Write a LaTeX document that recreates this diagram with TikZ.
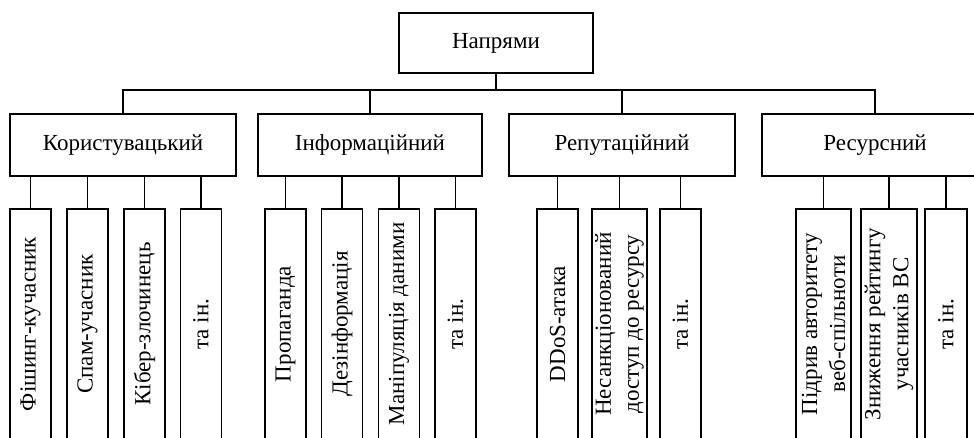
\documentclass[tikz,border=0pt]{standalone}
\usepackage{fontspec}
\setmainfont{Liberation Serif}
\usetikzlibrary{positioning}

\tikzset{
  box/.style={draw, line width=1.6pt, inner sep=0pt, font=\fontsize{23}{28}\selectfont},
  headbox/.style={box, minimum width=194pt, minimum height=60pt},
  groupbox/.style={box, minimum width=226pt, minimum height=62pt},
  leaf/.style={box, rotate=90, minimum width=230pt, minimum height=41pt, align=center},
  wideleaf/.style={leaf, minimum height=55pt},
  link/.style={line width=1.6pt}
}

\begin{document}
\begin{tikzpicture}[x=1pt,y=-1pt]
\useasboundingbox (0,0) rectangle (974,437);
\clip (0,0) rectangle (974,437);

% top
\node[headbox] (top) at (496,43) {Напрями};

% groups
\node[groupbox] (user) at (123,145) {Користувацький};
\node[groupbox, minimum width=224pt] (info) at (370,145) {Інформаційний};
\node[groupbox] (rep) at (622,145) {Репутаційний};
\node[groupbox] (res) at (875,145) {Ресурсний};

\draw[link] (top.south) -- ++(0,16) coordinate (bus);
\foreach \g in {user,info,rep,res}
  \draw[link] (bus) -| (\g.north);

% leaves (rotated, east = top side)
\node[leaf] (u1) at (30.5,324) {Фішинг-кучасник};
\node[leaf] (u2) at (87.5,324) {Спам-учасник};
\node[leaf] (u3) at (144.5,324) {Кібер-злочинець};
\node[leaf] (u4) at (201,324) {та ін.};

\node[leaf] (i1) at (285.5,324) {Пропаганда};
\node[leaf] (i2) at (342,324) {Дезінформація};
\node[leaf] (i3) at (399,324) {Маніпуляція даними};
\node[leaf] (i4) at (455.5,324) {та ін.};

\node[leaf] (r1) at (557.5,324) {DDoS-атака};
\node[wideleaf] (r2) at (619.5,324) {Несанкціонований\\доступ до ресурсу};
\node[leaf] (r3) at (680.5,324) {та ін.};

\node[wideleaf] (s1) at (823.5,324) {Підрив авторитету\\веб-спільноти};
\node[wideleaf, minimum height=56pt] (s2) at (889,324) {Зниження рейтингу\\учасників ВС};
\node[leaf, minimum height=42pt] (s3) at (946,324) {та ін.};

\foreach \l in {u1,u2,u3,u4}
  \draw[link] (user.south -| \l.east) -- (\l.east);
\foreach \l in {i1,i2,i3,i4}
  \draw[link] (info.south -| \l.east) -- (\l.east);
\foreach \l in {r1,r2,r3}
  \draw[link] (rep.south -| \l.east) -- (\l.east);
\foreach \l in {s1,s2,s3}
  \draw[link] (res.south -| \l.east) -- (\l.east);
\end{tikzpicture}
\end{document}
